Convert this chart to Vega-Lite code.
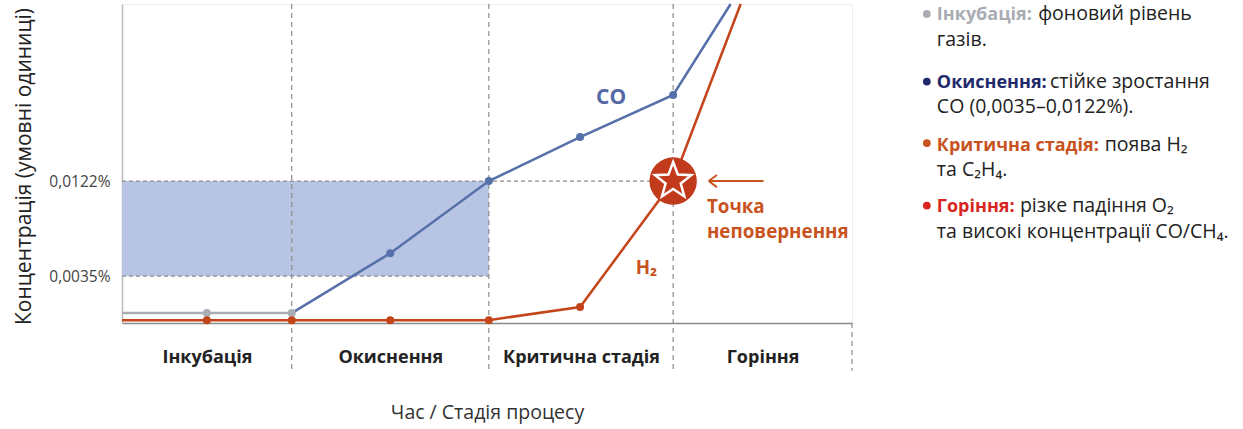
{
  "$schema": "https://vega.github.io/schema/vega-lite/v6.json",
  "width": 730,
  "height": 319,
  "autosize": {"type": "none"},
  "padding": {"left": 122, "top": 4, "right": 391, "bottom": 106},
  "background": "white",
  "config": {"font": "Open Sans", "view": {"stroke": "#eeeeee"}},
  "datasets": {
    "bandData": [{"t": 0, "t2": 4.02, "u": 14.7, "u2": 44.5}],
    "hdashData": [{"t": 0, "t2": 6.04, "u": 44.5}, {"t": 0, "t2": 4.02, "u": 14.7}],
    "vdashData": [
      {"t": 1.86, "u": 100, "u2": -15},
      {"t": 4.02, "u": 100, "u2": -15},
      {"t": 6.04, "u": 100, "u2": -15},
      {"t": 8, "u": 0, "u2": -15}
    ],
    "seriesData": [
      {"key": "Фон", "t": 0, "u": 3.1, "marker": 0},
      {"key": "Фон", "t": 0.93, "u": 3.1, "marker": 1},
      {"key": "Фон", "t": 1.86, "u": 3.1, "marker": 1},
      {"key": "CO", "t": 1.86, "u": 3.1, "marker": 0},
      {"key": "CO", "t": 2.94, "u": 21.9, "marker": 1},
      {"key": "CO", "t": 4.02, "u": 44.5, "marker": 1},
      {"key": "CO", "t": 5.02, "u": 58.3, "marker": 1},
      {"key": "CO", "t": 6.04, "u": 71.5, "marker": 1},
      {"key": "CO", "t": 6.67, "u": 100, "marker": 0},
      {"key": "H₂", "t": 0, "u": 0.9, "marker": 0},
      {"key": "H₂", "t": 0.93, "u": 0.9, "marker": 1},
      {"key": "H₂", "t": 1.86, "u": 0.9, "marker": 1},
      {"key": "H₂", "t": 2.94, "u": 0.9, "marker": 1},
      {"key": "H₂", "t": 4.02, "u": 0.9, "marker": 1},
      {"key": "H₂", "t": 5.02, "u": 5.0, "marker": 1},
      {"key": "H₂", "t": 6.04, "u": 44.5, "marker": 0},
      {"key": "H₂", "t": 6.78, "u": 100, "marker": 0}
    ],
    "starData": [{"t": 6.04, "u": 44.5}],
    "arrowData": [
      {"t": 6.43, "t2": 7.03, "u": 44.5, "u2": 44.5},
      {"t": 6.43, "t2": 6.52, "u": 44.5, "u2": 46.4},
      {"t": 6.43, "t2": 6.52, "u": 44.5, "u2": 42.6}
    ],
    "coData": [{"text": "CO", "t": 5.36, "u": 70.5}],
    "notesData": [
      {"text": "H₂", "t": 5.63, "u": 15.5},
      {"text": "Точка", "t": 6.41, "u": 34.5},
      {"text": "неповернення", "t": 6.41, "u": 26.7}
    ],
    "bulletData": [
      {"key": "Інкубація", "t": 8.82, "u": 96.9},
      {"key": "Окиснення", "t": 8.82, "u": 75.7},
      {"key": "Критична стадія", "t": 8.82, "u": 56.4},
      {"key": "Горіння", "t": 8.82, "u": 36.8}
    ],
    "headData": [
      {"key": "Інкубація", "text": "Інкубація:", "t": 8.93, "u": 94.9},
      {"key": "Окиснення", "text": "Окиснення:", "t": 8.93, "u": 73.7},
      {"key": "Критична стадія", "text": "Критична стадія:", "t": 8.93, "u": 53.9},
      {"key": "Горіння", "text": "Горіння:", "t": 8.93, "u": 34.8}
    ],
    "bodyData": [
      {"text": "фоновий рівень", "t": 10.04, "u": 94.9},
      {"text": "газів.", "t": 8.93, "u": 86.7},
      {"text": "стійке зростання", "t": 10.17, "u": 73.7},
      {"text": "CO (0,0035–0,0122%).", "t": 8.93, "u": 65.8},
      {"text": "поява H₂", "t": 10.77, "u": 53.9},
      {"text": "та C₂H₄.", "t": 8.93, "u": 46.0},
      {"text": "різке падіння O₂", "t": 9.84, "u": 34.8},
      {"text": "та високі концентрації CO/CH₄.", "t": 8.93, "u": 26.8}
    ]
  },
  "encoding": {
    "x": {
      "field": "t",
      "type": "quantitative",
      "scale": {"domain": [0, 8], "nice": false, "zero": false},
      "axis": {
        "title": "Час / Стадія процесу",
        "titleFontSize": 19.5,
        "titleFontWeight": "normal",
        "titleColor": "#333333",
        "titleY": 89,
        "titleBaseline": "middle",
        "values": [0.93, 2.94, 5.03, 7.02],
        "labelExpr": "datum.value < 2 ? 'Інкубація' : datum.value < 4 ? 'Окиснення' : datum.value < 6 ? 'Критична стадія' : 'Горіння'",
        "labelFontSize": 18,
        "labelFontWeight": "bold",
        "labelColor": "#222222",
        "labelBaseline": "middle",
        "labelPadding": 34,
        "ticks": false,
        "tickSize": 0,
        "grid": false,
        "domainColor": "#8a8a8a",
        "domainWidth": 1.5
      }
    },
    "y": {
      "field": "u",
      "type": "quantitative",
      "scale": {"domain": [0, 100], "nice": false, "zero": false},
      "axis": {
        "title": "Концентрація (умовні одиниці)",
        "titleFontSize": 21,
        "titleFontWeight": "normal",
        "titleColor": "#222222",
        "titleX": -98,
        "titleY": 162,
        "titleAngle": -90,
        "titleAlign": "center",
        "titleBaseline": "middle",
        "values": [14.7, 44.5],
        "labelExpr": "datum.value < 30 ? '0,0035%' : '0,0122%'",
        "labelFontSize": 15.5,
        "labelColor": "#444444",
        "labelPadding": 12,
        "ticks": false,
        "tickSize": 0,
        "grid": false,
        "domainColor": "#bbbbbb",
        "domainWidth": 1.5
      }
    }
  },
  "layer": [
    {
      "data": {"name": "bandData"},
      "mark": {"type": "rect", "color": "#b4c1e2", "opacity": 0.95},
      "encoding": {"x2": {"field": "t2"}, "y2": {"field": "u2"}}
    },
    {
      "data": {"name": "hdashData"},
      "mark": {"type": "rule", "color": "#8c8c8c", "strokeDash": [4, 3], "strokeWidth": 1.2},
      "encoding": {"x2": {"field": "t2"}}
    },
    {
      "data": {"name": "vdashData"},
      "mark": {"type": "rule", "color": "#8c8c8c", "strokeDash": [5, 4], "strokeWidth": 1.2},
      "encoding": {"y2": {"field": "u2"}}
    },
    {
      "data": {"name": "seriesData"},
      "mark": {"type": "line", "strokeWidth": 2.5},
      "encoding": {
        "color": {
          "field": "key",
          "type": "nominal",
          "scale": {"domain": ["Фон", "CO", "H₂", "Інкубація", "Окиснення", "Критична стадія", "Горіння"], "range": ["#a9adb5", "#5670aa", "#c4451a", "#a9acb3", "#1f2a6b", "#c8531e", "#d8261f"]},
          "legend": null
        },
        "order": {"field": "t", "type": "quantitative"}
      }
    },
    {
      "data": {"name": "seriesData"},
      "transform": [{"filter": "datum.marker == 1"}],
      "mark": {"type": "circle", "size": 64, "opacity": 1},
      "encoding": {
        "color": {"field": "key", "type": "nominal", "legend": null}
      }
    },
    {
      "data": {"name": "starData"},
      "mark": {"type": "circle", "size": 2250, "color": "#c13a1b", "opacity": 1},
      "encoding": {}
    },
    {
      "data": {"name": "starData"},
      "mark": {"type": "point", "shape": "M0,-1L0.247,-0.34L0.951,-0.309L0.399,0.13L0.588,0.809L0,0.42L-0.588,0.809L-0.399,0.13L-0.951,-0.309L-0.247,-0.34Z", "filled": false, "size": 1450, "color": "#ffffff", "strokeWidth": 2.5, "opacity": 1},
      "encoding": {}
    },
    {
      "data": {"name": "arrowData"},
      "mark": {"type": "rule", "color": "#c9531f", "strokeWidth": 2},
      "encoding": {"x2": {"field": "t2"}, "y2": {"field": "u2"}}
    },
    {
      "data": {"name": "coData"},
      "mark": {"type": "text", "fontSize": 21, "fontWeight": "bold", "color": "#5468a5", "align": "center", "baseline": "middle"},
      "encoding": {"text": {"field": "text"}}
    },
    {
      "data": {"name": "notesData"},
      "mark": {"type": "text", "fontSize": 18.8, "fontWeight": "bold", "color": "#c9531f", "align": "left", "baseline": "alphabetic"},
      "encoding": {"text": {"field": "text"}}
    },
    {
      "data": {"name": "bulletData"},
      "mark": {"type": "circle", "size": 60, "opacity": 1},
      "encoding": {
        "color": {"field": "key", "type": "nominal", "legend": null}
      }
    },
    {
      "data": {"name": "headData"},
      "mark": {"type": "text", "fontSize": 18, "fontWeight": "bold", "align": "left", "baseline": "alphabetic"},
      "encoding": {
        "text": {"field": "text"},
        "color": {"field": "key", "type": "nominal", "legend": null}
      }
    },
    {
      "data": {"name": "bodyData"},
      "mark": {"type": "text", "fontSize": 19.5, "color": "#222222", "align": "left", "baseline": "alphabetic"},
      "encoding": {"text": {"field": "text"}}
    }
  ]
}
